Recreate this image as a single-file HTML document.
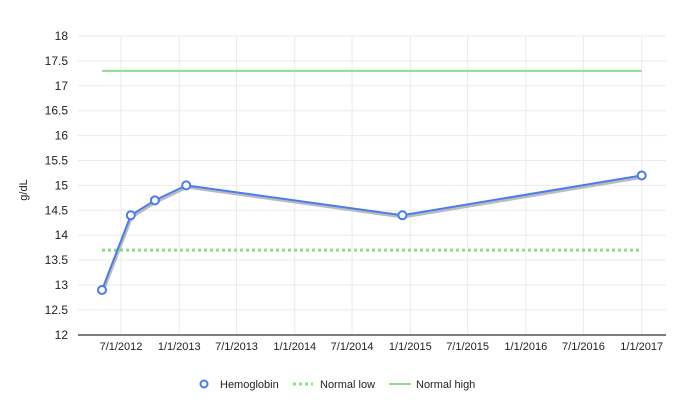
<!DOCTYPE html>
<html><head><meta charset="utf-8"><style>
body{margin:0;background:#fff;font-family:"Liberation Sans",sans-serif;}
svg text{font-family:"Liberation Sans",sans-serif;fill:#222;}
</style></head><body>
<svg id="chart" width="675" height="413" viewBox="0 0 675 413" xmlns="http://www.w3.org/2000/svg">
<g id="grid"></g>
<g id="axes"></g>
<g id="series"></g>
<text transform="translate(27,190) rotate(-90)" text-anchor="middle" font-size="11">g/dL</text>
<g>
 <g>
  <circle cx="204" cy="384" r="3.5" fill="#fff" stroke="#4a7cf0" stroke-width="2"/>
  <text x="220" y="388" font-size="11">Hemoglobin</text></g>
 <g>
  <line x1="293" y1="384" x2="313" y2="384" stroke="#8fdc8a" stroke-width="3" stroke-dasharray="3,3"/>
  <text x="320" y="388" font-size="11">Normal low</text></g>
 <g>
  <line x1="389" y1="384" x2="411" y2="384" stroke="#8fdc8a" stroke-width="2"/>
  <text x="416" y="388" font-size="11">Normal high</text></g>
</g>
</svg>
<script>
const dates = ["2012-05-02","2012-08-01","2012-10-16","2013-01-23","2014-12-07","2017-01-01"];
const hemoglobin = [12.9, 14.4, 14.7, 15.0, 14.4, 15.2];
const normalLow = [13.7, 13.7];
const normalHigh = [17.3, 17.3];
const rangeDates = ["2012-05-02","2017-01-01"];
const xTicks = ["2012-07-01","2013-01-01","2013-07-01","2014-01-01","2014-07-01","2015-01-01","2015-07-01","2016-01-01","2016-07-01","2017-01-01"];
const xTickLabels = ["7/1/2012","1/1/2013","7/1/2013","1/1/2014","7/1/2014","1/1/2015","7/1/2015","1/1/2016","7/1/2016","1/1/2017"];
const yTicks = [12,12.5,13,13.5,14,14.5,15,15.5,16,16.5,17,17.5,18];

const NS="http://www.w3.org/2000/svg";
const t0=Date.parse("2012-07-01"), t1=Date.parse("2017-01-01");
function x(d){return 121+(Date.parse(d)-t0)/(t1-t0)*(641.7-121);}
function y(v){return 334.8-(v-12)*49.8;}
function mk(tag,attrs,parent){const e=document.createElementNS(NS,tag);for(const k in attrs)e.setAttribute(k,attrs[k]);parent.appendChild(e);return e;}
const grid=document.getElementById('grid'),axes=document.getElementById('axes'),series=document.getElementById('series');
yTicks.forEach(v=>{
  const l=mk('line',{x1:78,x2:666,y1:y(v),y2:y(v),stroke:'#ebebeb','stroke-width':1},grid);
  
  
  const t=mk('text',{x:68,y:y(v)+4,'text-anchor':'end','font-size':12},axes);
  t.textContent=String(v);
  
  
});
xTicks.forEach((d,i)=>{
  const l=mk('line',{x1:x(d),x2:x(d),y1:36,y2:335,stroke:'#ebebeb','stroke-width':1},grid);
  
  
  const t=mk('text',{x:x(d),y:350,'text-anchor':'middle','font-size':11},axes);
  t.textContent=xTickLabels[i];
  
  
});
const base=mk('line',{x1:78,x2:666,y1:335,y2:335,stroke:'#555','stroke-width':1.5},axes);


const hi=mk('line',{x1:x(rangeDates[0]),x2:x(rangeDates[1]),y1:y(normalHigh[0]),y2:y(normalHigh[1]),stroke:'#8fdc8a','stroke-width':2},series);


const lo=mk('line',{x1:x(rangeDates[0]),x2:x(rangeDates[1]),y1:y(normalLow[0]),y2:y(normalLow[1]),stroke:'#8fdc8a','stroke-width':3,'stroke-dasharray':'3,3'},series);


const pts=dates.map((d,i)=>x(d)+','+y(hemoglobin[i])).join(' ');
const sh=mk('polyline',{points:pts,fill:'none',stroke:'#aaa','stroke-width':2.5,transform:'translate(1,2)',opacity:0.8},series);


const pl=mk('polyline',{points:pts,fill:'none',stroke:'#4a7cf0','stroke-width':2},series);


dates.forEach((d,i)=>{
  const c=mk('circle',{cx:x(d),cy:y(hemoglobin[i]),r:4,fill:'#fff',stroke:'#4a7cf0','stroke-width':2},series);
  
  
});
</script>
</body></html>
